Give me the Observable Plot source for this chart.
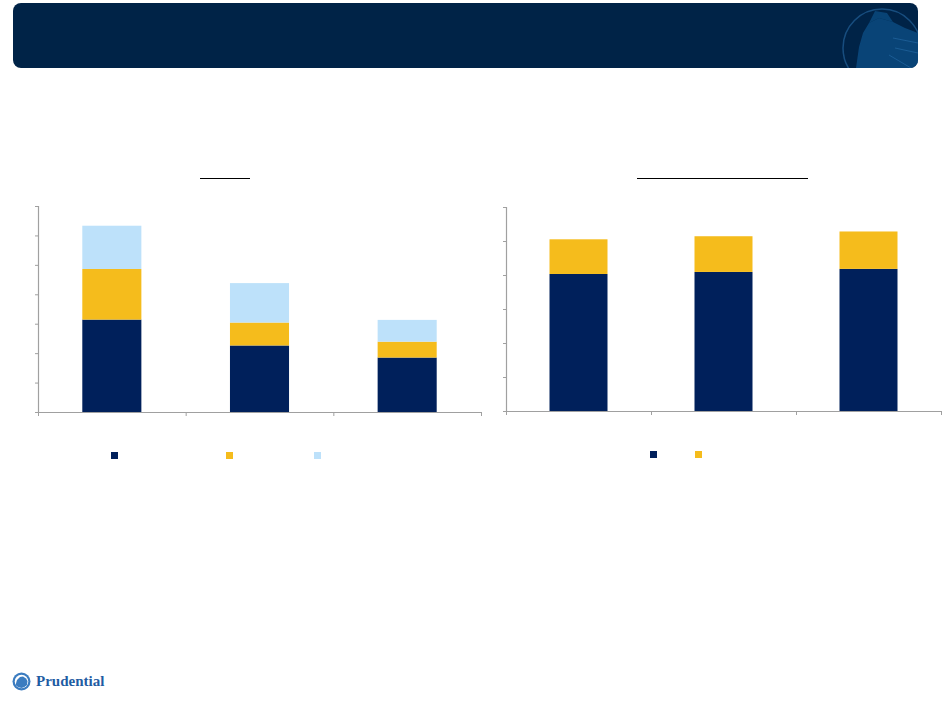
<!DOCTYPE html>
<html>
<head>
<meta charset="utf-8">
<script src="https://cdn.jsdelivr.net/npm/d3@7"></script>
<script src="https://cdn.jsdelivr.net/npm/@observablehq/plot@0.6"></script>
<style>
  html, body { margin: 0; padding: 0; width: 943px; height: 707px; overflow: hidden; background: #fff; }
  .abs { position: absolute; }
  #header { left: 13px; top: 3px; width: 905px; height: 65px; background: #002347; border-radius: 8px; overflow: hidden; }
  .uline { height: 0; border-top: 1.5px solid #000; }
  .sw { width: 7px; height: 7px; }
  #logo { left: 12px; top: 672px; display: flex; align-items: center; }
  #logo span { font-family: "Liberation Serif", "DejaVu Serif", serif; font-weight: bold; font-size: 15px; color: #1f5ca3; margin-left: 5px; }
</style>
</head>
<body>
<div id="header" class="abs">
  <svg width="905" height="65" style="position:absolute;left:0;top:0">
    <circle cx="869" cy="45" r="39" fill="none" stroke="#1b5588" stroke-width="1.5" opacity="0.85"/>
    <path d="M843,65 L846,44 L850,30 L856,20 L866,15 L880,19 L892,25 L905,30 L905,65 Z" fill="#0a4a80" opacity="0.85"/>
    <path d="M856,20 L862,8 L874,10 L880,19 L866,15 Z" fill="#0c5189" opacity="0.7"/>
    <path d="M880,35 L905,40 M882,45 L905,50 M876,52 L898,65" stroke="#1b5c94" stroke-width="1" fill="none"/>
  </svg>
</div>
<div id="chartL" class="abs" style="left:0;top:195px"></div>
<div id="chartR" class="abs" style="left:470px;top:195px"></div>
<div class="abs uline" style="left:200px;top:178px;width:50px"></div>
<div class="abs uline" style="left:637px;top:178px;width:171px"></div>
<div id="legendL"></div>
<div id="legendR"></div>
<div id="logo" class="abs">
  <svg width="19" height="19" viewBox="0 0 19 19">
    <circle cx="9.5" cy="9.5" r="9" fill="#3b7cc0"/>
    <circle cx="9.5" cy="9.5" r="6.8" fill="#ffffff"/>
    <path d="M3.5,13 L5,8 L8,5 L11,4.5 L14,6.5 L15.5,9 L15,13 Q12,16 9.5,16 Q6,16 3.5,13 Z" fill="#3b7cc0"/>
  </svg>
  <span>Prudential</span>
</div>
<script>
// ---- data ----
const catsL = ["A", "B", "C"];
const seriesL = ["s1", "s2", "s3"];
const navyL = [3.14, 2.26, 1.85];
const yellowL = [1.72, 0.78, 0.54];
const lightL = [1.47, 1.34, 0.74];
const yTicksL = [0, 1, 2, 3, 4, 5, 6, 7];

const catsR = ["A", "B", "C"];
const seriesR = ["s1", "s2"];
const navyR = [4.03, 4.09, 4.18];
const yellowR = [1.02, 1.05, 1.10];
const yTicksR = [0, 1, 2, 3, 4, 5, 6];

const colorsL = ["#00205b", "#f5bc1c", "#bde1fa"];
const colorsR = ["#00205b", "#f5bc1c"];

function table(cats, series, cols) {
  const rows = [];
  cats.forEach((c, i) => series.forEach((s, j) => rows.push({cat: c, i, series: s, value: cols[j][i]})));
  return rows;
}

function chart({cats, series, cols, colors, yTicks, width, height, ml, mr, mt, mb}) {
  const step = (width - ml - mr) / cats.length;
  const inset = step * 0.3;
  const data = table(cats, series, cols);
  return Plot.plot({
    width, height,
    marginLeft: ml, marginRight: mr, marginTop: mt, marginBottom: mb,
    x: {domain: [0, cats.length], axis: null, label: null},
    y: {domain: [0, d3.max(yTicks)], axis: null, label: null},
    color: {domain: series, range: colors},
    marks: [
      Plot.rectY(data, {x1: "i", x2: d => d.i + 1, y: "value", fill: "series", insetLeft: inset, insetRight: inset}),
      Plot.ruleX([0], {stroke: "#a0a0a0", strokeWidth: 1.2}),
      Plot.ruleY([0], {stroke: "#a0a0a0", strokeWidth: 1.2}),
      Plot.axisY({ticks: yTicks, tickSize: 3, tickFormat: () => "", label: null, stroke: "#a0a0a0"}),
      Plot.axisX({ticks: d3.range(cats.length + 1), tickSize: 4, tickFormat: () => "", label: null, stroke: "#a0a0a0"})
    ]
  });
}

document.getElementById("chartL").append(chart({
  cats: catsL, series: seriesL, cols: [navyL, yellowL, lightL], colors: colorsL, yTicks: yTicksL,
  width: 490, height: 237, ml: 38, mr: 9, mt: 11, mb: 20
}));
document.getElementById("chartR").append(chart({
  cats: catsR, series: seriesR, cols: [navyR, yellowR], colors: colorsR, yTicks: yTicksR,
  width: 473, height: 236, ml: 36, mr: 2, mt: 12, mb: 20
}));

function legend(id, colors, xs, top) {
  const el = document.getElementById(id);
  colors.forEach((c, k) => {
    const d = document.createElement("div");
    d.className = "abs sw";
    d.style.left = xs[k] + "px";
    d.style.top = top + "px";
    d.style.background = c;
    el.append(d);
  });
}
legend("legendL", colorsL, [111, 226, 314], 452);
legend("legendR", colorsR, [650, 695], 451);
</script>
</body>
</html>
